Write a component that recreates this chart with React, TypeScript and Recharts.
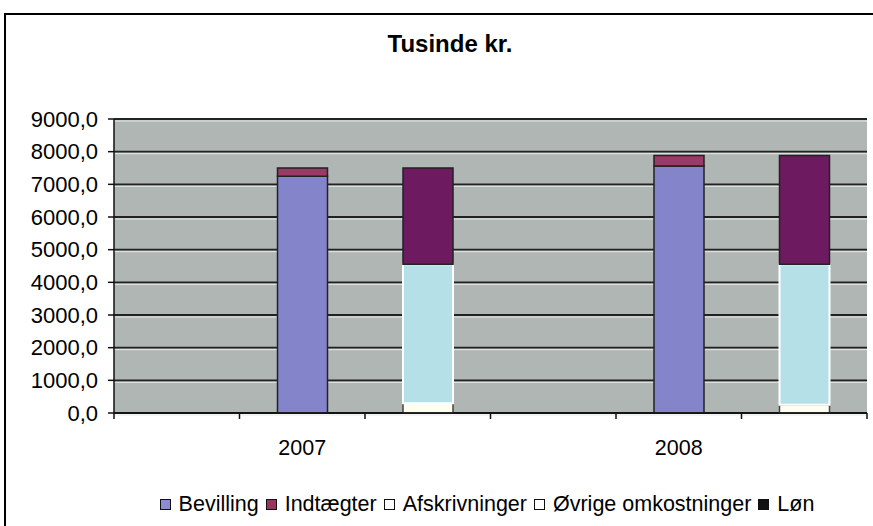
import { BarChart, Bar, XAxis, YAxis, CartesianGrid, Legend } from "recharts";

// 6 slots on the axis: revenue column and cost column for each year
const categories = ["", "2007", "", "", "2008", ""];
const bevilling = [null, 7250, null, null, 7560, null];
const indtaegter = [null, 250, null, null, 320, null];
const afskrivninger = [null, null, 300, null, null, 250];
const ovrige = [null, null, 4250, null, null, 4300];
const lon = [null, null, 2950, null, null, 3330];
const yTicks = [0, 1000, 2000, 3000, 4000, 5000, 6000, 7000, 8000, 9000];
const legendOrder = ["Bevilling", "Indtægter", "Afskrivninger", "Øvrige omkostninger", "Løn"];

const data = categories.map((c, i) => ({
  name: c,
  key: `c${i}`,
  Bevilling: bevilling[i],
  Indtægter: indtaegter[i],
  Afskrivninger: afskrivninger[i],
  "Øvrige omkostninger": ovrige[i],
  Løn: lon[i],
}));

const FONT = "'Liberation Sans', Arial, sans-serif";
const W = 873;
const H = 526;
const MARGIN = { top: 119, right: 6, left: 0, bottom: 10 };
const Y_WIDTH = 114;
const BAND = (W - MARGIN.right - Y_WIDTH) / categories.length;

// legend swatches as they appear in the printed legend
const SWATCH: Record<string, string> = {
  Bevilling: "#8c8cd2",
  Indtægter: "#99335f",
  Afskrivninger: "#ffffff",
  "Øvrige omkostninger": "#ffffff",
  Løn: "#111111",
};

function XTick(props: any) {
  const { x, y, index } = props;
  const last = index === categories.length - 1;
  return (
    <g>
      <line x1={x - BAND / 2} x2={x - BAND / 2} y1={y} y2={y + 6} stroke="#111" strokeWidth={1.5} />
      {last && (
        <line x1={x + BAND / 2} x2={x + BAND / 2} y1={y} y2={y + 6} stroke="#111" strokeWidth={1.5} />
      )}
      <text x={x} y={y + 42} textAnchor="middle" fontSize={21.5} fontFamily={FONT} fill="#000">
        {categories[index]}
      </text>
    </g>
  );
}

function GridLine(props: any) {
  const { x1, x2, y1 } = props;
  return (
    <g key={props.key}>
      <line x1={x1} x2={x2} y1={y1 + 2} y2={y1 + 2} stroke="#e6e9e8" strokeWidth={1} />
      <line x1={x1} x2={x2} y1={y1} y2={y1} stroke="#222" strokeWidth={1.8} />
    </g>
  );
}

function LegendContent() {
  return (
    <div
      style={{
        width: W,
        boxSizing: "border-box",
        paddingLeft: 108,
        display: "flex",
        justifyContent: "center",
        fontFamily: FONT,
        fontSize: 21.5,
        color: "#000",
        lineHeight: "24px",
      }}
    >
      {legendOrder.map((name) => (
        <span key={name} style={{ display: "inline-flex", alignItems: "center", marginRight: 7 }}>
          <span
            style={{
              display: "inline-block",
              width: 9,
              height: 9,
              border: "1.5px solid #111",
              background: SWATCH[name],
              marginRight: 8,
            }}
          />
          {name}
        </span>
      ))}
    </div>
  );
}

export default function App() {
  return (
    <div style={{ position: "absolute", left: 0, top: 0, width: W, height: H, background: "#fff", overflow: "hidden" }}>
      <div
        style={{
          position: "absolute",
          left: 4,
          top: 13,
          width: W + 20,
          height: H + 20,
          borderLeft: "2.5px solid #000",
          borderTop: "2.5px solid #000",
        }}
      />
      <div
        style={{
          position: "absolute",
          left: 0,
          width: 900,
          top: 30,
          textAlign: "center",
          fontFamily: FONT,
          fontWeight: "bold",
          fontSize: 24,
        }}
      >
        Tusinde kr.
      </div>
      <BarChart width={W} height={H} data={data} margin={MARGIN} barSize={50}>
        <CartesianGrid
          vertical={false}
          horizontal={GridLine as any}
          fill="#afb6b4"
          fillOpacity={1}
        />
        <XAxis
          dataKey="key"
          tick={<XTick />}
          tickLine={false}
          tickSize={0}
          tickMargin={0}
          axisLine={{ stroke: "#111", strokeWidth: 1.5 }}
          height={79}
          interval={0}
        />
        <YAxis
          width={Y_WIDTH}
          domain={[0, 9000]}
          ticks={yTicks}
          interval={0}
          tickFormatter={(v: number) => v.toFixed(1).replace(".", ",")}
          tick={{ fill: "#000", fontSize: 22, fontFamily: FONT }}
          tickLine={{ stroke: "#111", strokeWidth: 1.5 }}
          axisLine={{ stroke: "#111", strokeWidth: 1.5 }}
          tickSize={6}
          tickMargin={10}
        />
        <Legend verticalAlign="bottom" content={<LegendContent />} />
        <Bar dataKey="Bevilling" stackId="a" fill="#8484ca" stroke="#222" strokeWidth={1.5} isAnimationActive={false} />
        <Bar dataKey="Indtægter" stackId="a" fill="#9a3a66" stroke="#222" strokeWidth={1.5} isAnimationActive={false} />
        <Bar dataKey="Afskrivninger" stackId="a" fill="#fffff0" stroke="#444" strokeWidth={1.5} isAnimationActive={false} />
        <Bar dataKey="Øvrige omkostninger" stackId="a" fill="#b6e0e8" stroke="#ffffff" strokeWidth={2} isAnimationActive={false} />
        <Bar dataKey="Løn" stackId="a" fill="#6e1a60" stroke="#222" strokeWidth={1.5} isAnimationActive={false} />
      </BarChart>
    </div>
  );
}
